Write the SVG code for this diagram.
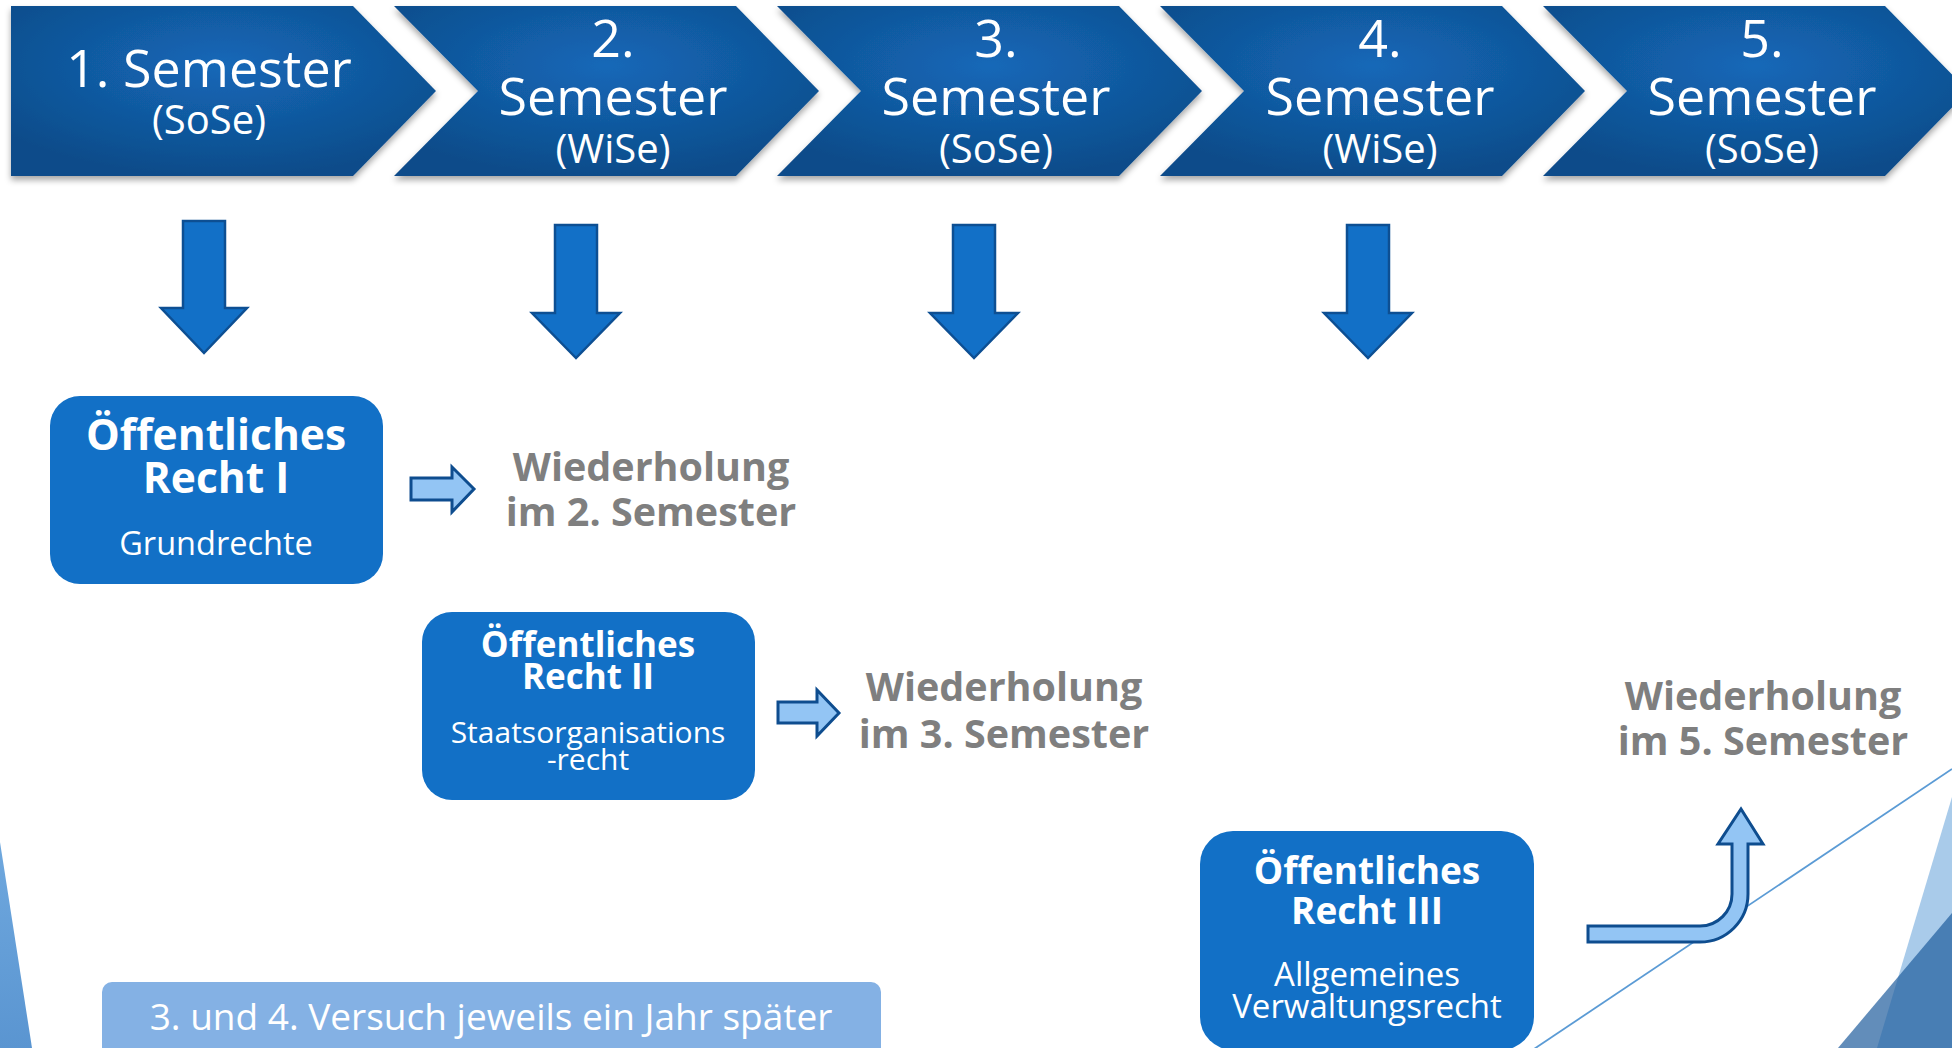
<svg xmlns="http://www.w3.org/2000/svg" width="1952" height="1048" viewBox="0 0 1952 1048">
<defs>
<style>
.chev{fill:url(#chevGrad);filter:url(#shadow);}
.ct{font-family:"Open Sans","Noto Sans",sans-serif;fill:#ffffff;text-anchor:middle;}
.big{font-size:52px;}
.sub{font-size:40px;}
.down{fill:#1270c7;stroke:#0d4f93;stroke-width:2.5;}
.right{fill:#93c5f4;stroke:#0e4d8f;stroke-width:3;stroke-linejoin:miter;}
.box{fill:#1270c6;}
.bt{font-family:"Open Sans","Noto Sans",sans-serif;fill:#ffffff;text-anchor:middle;font-weight:700;}
.bs{font-family:"Open Sans","Noto Sans",sans-serif;fill:#ffffff;text-anchor:middle;font-weight:400;}
.wdh{font-family:"Open Sans","Noto Sans",sans-serif;fill:#7f7f7f;text-anchor:middle;font-weight:700;font-size:39.5px;}
</style>
<radialGradient id="chevGrad" cx="0.5" cy="0.35" r="0.65">
<stop offset="0" stop-color="#1468b8"/>
<stop offset="1" stop-color="#0e4c8a"/>
</radialGradient>
<linearGradient id="wedgeGrad" x1="0" y1="0" x2="0" y2="1">
<stop offset="0" stop-color="#6fa8de"/>
<stop offset="1" stop-color="#5a95d1"/>
</linearGradient>
<filter id="shadow" x="-10%" y="-10%" width="125%" height="130%">
<feDropShadow dx="0" dy="4" stdDeviation="3" flood-color="#000000" flood-opacity="0.35"/>
</filter>
</defs>
<rect width="1952" height="1048" fill="#ffffff"/>

<g id="background">
<polygon points="0,842 32,1048 0,1048" fill="url(#wedgeGrad)"/>
<polygon points="1952,797 1877,1048 1952,1048" fill="#a9cbea"/>
<polygon points="1952,913 1838,1048 1952,1048" fill="#1f5c9c" fill-opacity="0.7"/>
<line x1="1534" y1="1049" x2="1952" y2="769" stroke="#5b9bd5" stroke-width="1.8"/>
</g>

<g id="semester-1">
<path class="chev" d="M11,6 H353 L436,91 L353,176 H11 Z"/>
<text class="ct big" x="209" y="87" font-size="53">1. Semester</text>
<text class="ct sub" x="209" y="134">(SoSe)</text>
</g>
<g id="semester-2">
<path class="chev" d="M394,6 H736 L819,91 L736,176 H394 L478,91 Z"/>
<text class="ct big" x="613" y="57">2.</text>
<text class="ct big" x="613" y="115">Semester</text>
<text class="ct sub" x="613" y="163">(WiSe)</text>
</g>
<g id="semester-3">
<path class="chev" d="M777,6 H1119 L1202,91 L1119,176 H777 L861,91 Z"/>
<text class="ct big" x="996" y="57">3.</text>
<text class="ct big" x="996" y="115">Semester</text>
<text class="ct sub" x="996" y="163">(SoSe)</text>
</g>
<g id="semester-4">
<path class="chev" d="M1160,6 H1502 L1585,91 L1502,176 H1160 L1244,91 Z"/>
<text class="ct big" x="1380" y="57">4.</text>
<text class="ct big" x="1380" y="115">Semester</text>
<text class="ct sub" x="1380" y="163">(WiSe)</text>
</g>
<g id="semester-5">
<path class="chev" d="M1543,6 H1885 L1968,91 L1885,176 H1543 L1627,91 Z"/>
<text class="ct big" x="1762" y="57">5.</text>
<text class="ct big" x="1762" y="115">Semester</text>
<text class="ct sub" x="1762" y="163">(SoSe)</text>
</g>

<g id="connectors">
<path class="down" d="M183,221 H225 V308 H247 L204,353 L161,308 H183 Z"/>
<path class="down" d="M555,225 H597 V313 H620 L576,358 L532,313 H555 Z"/>
<path class="down" d="M953,225 H995 V313 H1018 L974,358 L930,313 H953 Z"/>
<path class="down" d="M1347,225 H1389 V313 H1412 L1368,358 L1324,313 H1347 Z"/>
<path class="right" d="M411,478 H452 V467 L474,489 L452,512 V500 H411 Z"/>
<path class="right" d="M778,702 H817 V690 L839,713 L817,736 V723 H778 Z"/>
<path class="right" d="M1588,926 H1700 A32,32 0 0 0 1732,894 V844 H1718 L1741,809 L1763,844 H1748 V894 A48,48 0 0 1 1700,942 H1588 Z"/>
</g>

<g id="oer-1">
<rect class="box" x="50" y="396" width="333" height="188" rx="30" ry="30"/>
<text class="bt" x="216" y="450" font-size="42.5">Öffentliches</text>
<text class="bt" x="216" y="493" font-size="42.5">Recht I</text>
<text class="bs" x="216" y="555" font-size="32.5">Grundrechte</text>
</g>
<g id="wdh-2">
<text class="wdh" x="651" y="481">Wiederholung</text>
<text class="wdh" x="651" y="526">im 2. Semester</text>
</g>

<g id="oer-2">
<rect class="box" x="422" y="612" width="333" height="188" rx="30" ry="30"/>
<text class="bt" x="588" y="657" font-size="35">Öffentliches</text>
<text class="bt" x="588" y="689" font-size="35">Recht II</text>
<text class="bs" x="588" y="743" font-size="30">Staatsorganisations</text>
<text class="bs" x="588" y="770" font-size="30">-recht</text>
</g>
<g id="wdh-3">
<text class="wdh" x="1004" y="701">Wiederholung</text>
<text class="wdh" x="1004" y="748">im 3. Semester</text>
</g>

<g id="oer-3">
<rect class="box" x="1200" y="831" width="334" height="219" rx="33" ry="33"/>
<text class="bt" x="1367" y="884" font-size="37">Öffentliches</text>
<text class="bt" x="1367" y="924" font-size="37">Recht III</text>
<text class="bs" x="1367" y="986" font-size="33">Allgemeines</text>
<text class="bs" x="1367" y="1018" font-size="33">Verwaltungsrecht</text>
</g>
<g id="wdh-5">
<text class="wdh" x="1763" y="710">Wiederholung</text>
<text class="wdh" x="1763" y="755">im 5. Semester</text>
</g>

<g id="note">
<rect x="102" y="982" width="779" height="90" rx="10" ry="10" fill="#84b1e4"/>
<text class="bs" x="491" y="1030" font-size="37">3. und 4. Versuch jeweils ein Jahr später</text>
</g>
</svg>
